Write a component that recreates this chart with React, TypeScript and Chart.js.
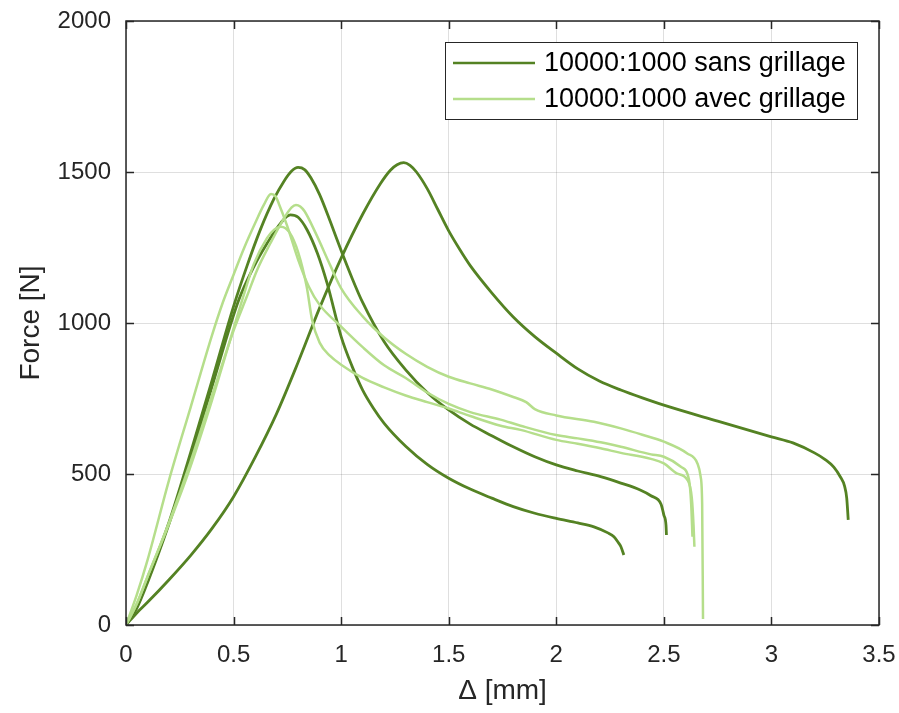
import React, { useEffect, useRef } from "react";
import { Chart, registerables } from "chart.js";

Chart.register(...registerables);

// ---- Data (Δ [mm], Force [N]) ----
const sans1X = [0, 0.05, 0.1, 0.2, 0.3, 0.4, 0.5, 0.6, 0.7, 0.8, 0.9, 1.0, 1.1, 1.183, 1.229, 1.26, 1.291, 1.32, 1.35, 1.4, 1.45, 1.5, 1.55, 1.6, 1.7, 1.8, 1.9, 2.0, 2.1, 2.2, 2.3, 2.4, 2.5, 2.75, 3.0, 3.1, 3.2, 3.25, 3.29, 3.32, 3.34, 3.35, 3.357];
const sans1Y = [0, 40, 75, 150, 230, 320, 425, 555, 700, 870, 1050, 1215, 1360, 1462, 1506, 1524, 1531, 1522, 1500, 1445, 1375, 1305, 1245, 1190, 1100, 1020, 955, 900, 848, 808, 778, 752, 728, 675, 623, 603, 570, 548, 523, 491, 460, 420, 348];

const sans2X = [0, 0.05, 0.1, 0.2, 0.3, 0.4, 0.5, 0.563, 0.625, 0.687, 0.733, 0.77, 0.8, 0.83, 0.86, 0.9, 0.95, 1.0, 1.05, 1.1, 1.2, 1.3, 1.4, 1.5, 1.6, 1.7, 1.8, 1.9, 2.0, 2.1, 2.206, 2.3, 2.39, 2.44, 2.487, 2.5, 2.51, 2.512];
const sans2Y = [0, 60, 150, 340, 570, 810, 1055, 1190, 1310, 1410, 1468, 1503, 1515, 1508, 1480, 1425, 1335, 1240, 1150, 1068, 938, 845, 770, 712, 665, 627, 590, 557, 530, 510, 491, 470, 447, 428, 400, 364, 330, 298];

const sans3X = [0, 0.05, 0.1, 0.2, 0.3, 0.4, 0.524, 0.594, 0.656, 0.718, 0.764, 0.8, 0.842, 0.89, 0.935, 1.0, 1.05, 1.1, 1.15, 1.2, 1.3, 1.4, 1.5, 1.6, 1.7, 1.8, 1.9, 2.0, 2.1, 2.175, 2.24, 2.268, 2.29, 2.3, 2.314];
const sans3Y = [0, 55, 140, 335, 555, 790, 1076, 1186, 1264, 1330, 1358, 1350, 1308, 1230, 1131, 955, 858, 778, 718, 668, 592, 532, 486, 450, 420, 392, 370, 353, 338, 325, 305, 292, 271, 260, 232];

const avec1X = [0, 0.05, 0.1, 0.2, 0.3, 0.4, 0.45, 0.5, 0.55, 0.6, 0.64, 0.674, 0.695, 0.71, 0.75, 0.8, 0.85, 0.9, 1.0, 1.1, 1.2, 1.3, 1.4, 1.5, 1.6, 1.741, 1.834, 2.0, 2.1, 2.206, 2.3, 2.44, 2.5, 2.579, 2.617, 2.627, 2.633];
const avec1Y = [0, 100, 215, 480, 720, 960, 1068, 1160, 1250, 1330, 1390, 1427, 1420, 1396, 1320, 1210, 1120, 1060, 988, 920, 860, 818, 770, 732, 705, 680, 660, 629, 618, 605, 590, 565, 557, 524, 480, 400, 292];

const avec2X = [0, 0.05, 0.1, 0.2, 0.3, 0.4, 0.5, 0.563, 0.609, 0.671, 0.733, 0.77, 0.79, 0.81, 0.83, 0.88, 0.95, 1.0, 1.1, 1.2, 1.3, 1.4, 1.5, 1.6, 1.7, 1.8, 1.86, 1.9, 2.0, 2.175, 2.3, 2.4, 2.5, 2.609, 2.656, 2.671, 2.678, 2.682];
const avec2Y = [0, 70, 160, 340, 540, 760, 975, 1090, 1175, 1264, 1345, 1383, 1391, 1386, 1370, 1300, 1190, 1115, 1022, 952, 898, 855, 822, 800, 780, 755, 738, 715, 694, 673, 651, 630, 607, 568, 535, 491, 400, 20];

const avec3X = [0, 0.05, 0.1, 0.2, 0.29, 0.4, 0.54, 0.594, 0.656, 0.69, 0.72, 0.76, 0.8, 0.84, 0.865, 0.9, 0.95, 1.0, 1.1, 1.2, 1.3, 1.4, 1.5, 1.6, 1.741, 1.834, 2.0, 2.1, 2.206, 2.3, 2.44, 2.5, 2.56, 2.61, 2.63, 2.638, 2.642];
const avec3Y = [0, 70, 160, 335, 505, 745, 1076, 1195, 1282, 1310, 1319, 1300, 1235, 1120, 1010, 935, 890, 862, 818, 787, 760, 738, 717, 692, 660, 646, 613, 600, 585, 570, 550, 535, 502, 480, 420, 330, 259];

const legendLabels = ["10000:1000 sans grillage", "10000:1000 avec grillage"];
const xTitle = "Δ [mm]";
const yTitle = "Force [N]";

const DARK = "rgb(84,130,35)";
const LIGHT = "rgb(181,222,139)";
const AXIS = "#262626";
const FONT = "'Liberation Sans', Arial, Helvetica, sans-serif";

const toPts = (xs: number[], ys: number[]) => xs.map((x, i) => ({ x, y: ys[i] }));

const framePlugin = {
  id: "frame",
  afterDatasetsDraw(chart: any) {
    const { ctx, chartArea, scales } = chart;
    const { left, right, top, bottom } = chartArea;
    ctx.save();
    ctx.strokeStyle = AXIS;
    ctx.lineWidth = 1.5;
    ctx.strokeRect(left, top, right - left, bottom - top);
    const tl = 8;
    ctx.beginPath();
    scales.x.ticks.forEach((t: any) => {
      const px = Math.round(scales.x.getPixelForValue(t.value)) + 0.5;
      ctx.moveTo(px, bottom);
      ctx.lineTo(px, bottom - tl);
      ctx.moveTo(px, top);
      ctx.lineTo(px, top + tl);
    });
    scales.y.ticks.forEach((t: any) => {
      const py = Math.round(scales.y.getPixelForValue(t.value)) + 0.5;
      ctx.moveTo(left, py);
      ctx.lineTo(left + tl, py);
      ctx.moveTo(right, py);
      ctx.lineTo(right - tl, py);
    });
    ctx.stroke();
    ctx.restore();
  },
};

const legendPlugin = {
  id: "customLegend",
  afterDraw(chart: any) {
    const { ctx } = chart;
    const bx = 445, by = 42, bw = 412, bh = 77;
    ctx.save();
    ctx.fillStyle = "#ffffff";
    ctx.fillRect(bx, by, bw, bh);
    ctx.strokeStyle = AXIS;
    ctx.lineWidth = 1;
    ctx.strokeRect(bx + 0.5, by + 0.5, bw, bh);
    const rows = [
      { y: 63, color: DARK, w: 2.5, text: legendLabels[0] },
      { y: 99, color: LIGHT, w: 2.5, text: legendLabels[1] },
    ];
    ctx.font = `27px ${FONT}`;
    ctx.textBaseline = "middle";
    ctx.textAlign = "left";
    rows.forEach((r) => {
      ctx.strokeStyle = r.color;
      ctx.lineWidth = r.w;
      ctx.beginPath();
      ctx.moveTo(453, r.y);
      ctx.lineTo(535, r.y);
      ctx.stroke();
      ctx.fillStyle = "#000000";
      ctx.fillText(r.text, 544, r.y + 1);
    });
    ctx.restore();
  },
};

export default function App() {
  const ref = useRef<HTMLCanvasElement | null>(null);
  useEffect(() => {
    if (!ref.current) return;
    const mk = (xs: number[], ys: number[], color: string, w: number) => ({
      data: toPts(xs, ys),
      borderColor: color,
      backgroundColor: color,
      borderWidth: w,
      pointRadius: 0,
      cubicInterpolationMode: "monotone" as const,
      fill: false,
    });
    const chart = new Chart(ref.current, {
      type: "line",
      data: {
        datasets: [
          mk(avec1X, avec1Y, LIGHT, 2.5),
          mk(avec2X, avec2Y, LIGHT, 2.5),
          mk(avec3X, avec3Y, LIGHT, 2.5),
          mk(sans1X, sans1Y, DARK, 2.8),
          mk(sans2X, sans2Y, DARK, 2.8),
          mk(sans3X, sans3Y, DARK, 2.8),
        ],
      },
      options: {
        animation: false,
        responsive: false,
        devicePixelRatio: 1,
        layout: { padding: { left: 0, right: 20, top: 21, bottom: 0 } },
        plugins: { legend: { display: false }, tooltip: { enabled: false } },
        scales: {
          x: {
            type: "linear",
            min: 0,
            max: 3.5,
            border: { display: false },
            grid: { color: "rgba(38,38,38,0.15)", drawTicks: false, lineWidth: 1 },
            ticks: {
              stepSize: 0.5,
              color: AXIS,
              padding: 16,
              font: { family: FONT, size: 24 },
              callback: (v: any) => String(v),
              maxRotation: 0,
            },
            title: {
              display: true,
              text: xTitle,
              color: AXIS,
              font: { family: FONT, size: 28 },
              padding: { top: 0, bottom: 5 },
            },
            afterFit: (s: any) => {
              s.height = 88;
              s.paddingLeft = 0;
              s.paddingRight = 0;
            },
          },
          y: {
            type: "linear",
            min: 0,
            max: 2000,
            border: { display: false },
            grid: { color: "rgba(38,38,38,0.15)", drawTicks: false, lineWidth: 1 },
            ticks: {
              stepSize: 500,
              color: AXIS,
              padding: 15,
              font: { family: FONT, size: 24 },
              callback: (v: any) => String(v),
            },
            title: {
              display: true,
              text: yTitle,
              color: AXIS,
              font: { family: FONT, size: 28 },
              padding: { top: 14, bottom: 0 },
            },
            afterFit: (s: any) => {
              s.width = 126;
              s.paddingTop = 0;
              s.paddingBottom = 0;
            },
          },
        },
      },
      plugins: [framePlugin, legendPlugin],
    });
    return () => chart.destroy();
  }, []);
  return (
    <div style={{ position: "absolute", left: 0, top: 0, width: 899, height: 713, background: "#fff" }}>
      <canvas ref={ref} width={899} height={713} />
    </div>
  );
}
